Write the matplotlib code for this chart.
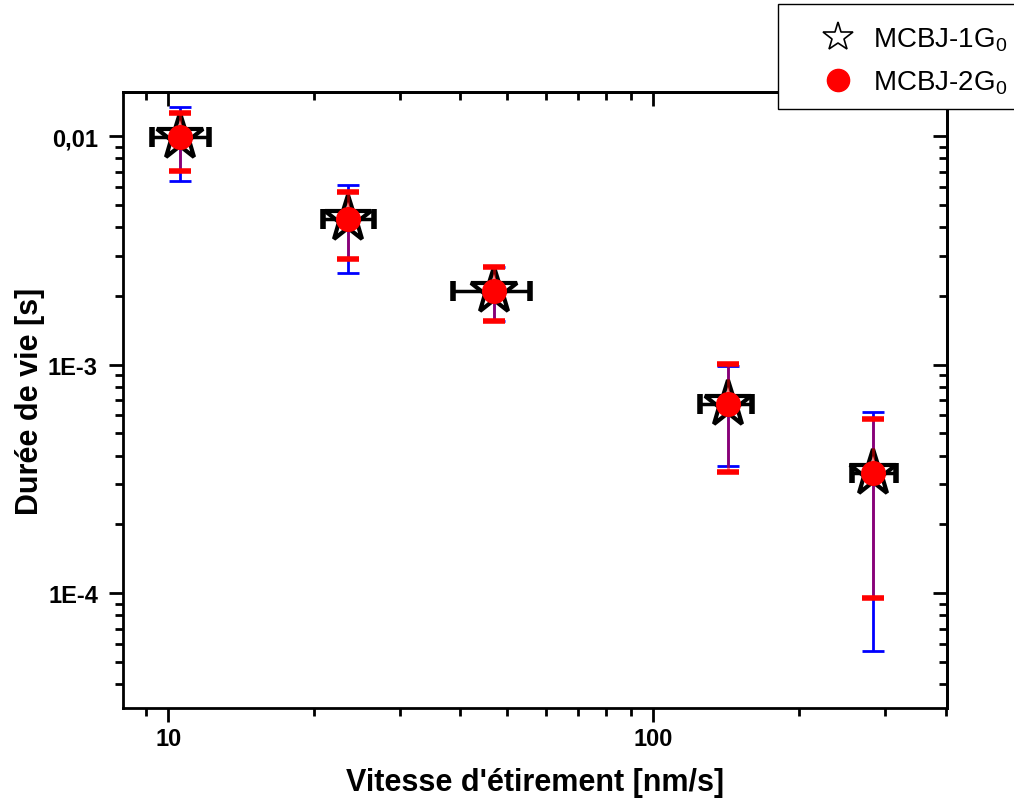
import numpy as np
import matplotlib
matplotlib.use("Agg")
import matplotlib.pyplot as plt
from matplotlib.lines import Line2D
from matplotlib.patches import Rectangle
from matplotlib.ticker import FixedLocator, FixedFormatter, LogLocator, NullFormatter

plt.rcParams['font.family'] = ['Liberation Sans', 'DejaVu Sans']
plt.rcParams['mathtext.default'] = 'regular'

# stretching speed [nm/s] and lifetime [s]
speed = [10.6, 23.5, 47.0, 142.8, 284.0]
speed_lo = [9.27, 20.8, 38.7, 125.0, 257.0]
speed_hi = [12.15, 26.5, 55.7, 160.0, 316.0]

life = [0.0099, 0.00433, 0.0021, 6.7e-4, 3.37e-4]
# MCBJ-1G0 (blue bars)
life1_lo = [0.00635, 0.00251, 0.00155, 3.61e-4, 5.57e-5]
life1_hi = [0.0134, 0.0061, 0.00267, 9.9e-4, 6.22e-4]
# MCBJ-2G0 (red bars)
life2_lo = [0.00703, 0.0029, 0.00155, 3.4e-4, 9.5e-5]
life2_hi = [0.0127, 0.00569, 0.00267, 1.01e-3, 5.81e-4]

yticks = [1e-4, 1e-3, 1e-2]
ytick_labels = ["1E-4", "1E-3", "0,01"]
xticks = [10, 100]
xtick_labels = ["10", "100"]

x = np.array(speed)
y = np.array(life)
xerr = [x - np.array(speed_lo), np.array(speed_hi) - x]
yerr1 = [y - np.array(life1_lo), np.array(life1_hi) - y]
yerr2 = [y - np.array(life2_lo), np.array(life2_hi) - y]

fig = plt.figure(figsize=(10.14, 8.03), dpi=100)
ax = fig.add_axes([0.1213, 0.117, 0.8127, 0.767])

# series 1: black x error, blue y error, open star
ax.errorbar(x, y, xerr=xerr, fmt='none', ecolor='black', elinewidth=2.5,
            capsize=7, capthick=4, zorder=2)
ax.errorbar(x, y, yerr=yerr1, fmt='none', ecolor='blue', elinewidth=2,
            capsize=8, capthick=2, zorder=2)
ax.plot(x, y, linestyle='none', marker='*', ms=35, mfc='white', mec='black',
        mew=3, zorder=3)
# series 2: red y error, red circle
eb = ax.errorbar(x, y, yerr=yerr2, fmt='none', ecolor='red', elinewidth=2,
                 capsize=8, capthick=4, zorder=4)
for c in eb[2]:
    c.set_alpha(0.55)
ax.plot(x, y, linestyle='none', marker='o', ms=17, mfc='red', mec='red',
        zorder=5)

ax.set_xscale('log')
ax.set_yscale('log')
ax.set_xlim(8.07, 403)
ax.set_ylim(3.14e-5, 0.0156)

ax.xaxis.set_major_locator(FixedLocator(xticks))
ax.xaxis.set_major_formatter(FixedFormatter(xtick_labels))
ax.xaxis.set_minor_locator(LogLocator(base=10, subs=np.arange(2, 10)))
ax.xaxis.set_minor_formatter(NullFormatter())
ax.yaxis.set_major_locator(FixedLocator(yticks))
ax.yaxis.set_major_formatter(FixedFormatter(ytick_labels))
ax.yaxis.set_minor_locator(LogLocator(base=10, subs=np.arange(2, 10)))
ax.yaxis.set_minor_formatter(NullFormatter())

for s in ax.spines.values():
    s.set_linewidth(2)
ax.tick_params(which='both', direction='out', width=2, top=False, right=False)
ax.tick_params(which='major', length=10, labelsize=17, pad=8)
ax.tick_params(which='minor', length=6)
ax.tick_params(axis='x', pad=4)
# mirrored inward ticks on top/right
ax2 = ax.secondary_xaxis('top')
ax2.xaxis.set_major_locator(FixedLocator(xticks))
ax2.xaxis.set_minor_locator(LogLocator(base=10, subs=np.arange(2, 10)))
ax2.tick_params(which='both', direction='in', width=2, labeltop=False)
ax2.tick_params(which='major', length=10)
ax2.tick_params(which='minor', length=6)
ax2.spines['top'].set_linewidth(2)
ay2 = ax.secondary_yaxis('right')
ay2.yaxis.set_major_locator(FixedLocator(yticks))
ay2.yaxis.set_minor_locator(LogLocator(base=10, subs=np.arange(2, 10)))
ay2.tick_params(which='both', direction='in', width=2, labelright=False)
ay2.tick_params(which='major', length=10)
ay2.tick_params(which='minor', length=6)
ay2.spines['right'].set_linewidth(2)

for lab in ax.get_xticklabels() + ax.get_yticklabels():
    lab.set_fontweight('bold')

ax.set_xlabel("Vitesse d'étirement [nm/s]", fontsize=22, fontweight='bold', labelpad=12)
ax.set_ylabel("Durée de vie [s]", fontsize=22, fontweight='bold', labelpad=2)

# legend box (runs off the right edge, as in the original)
fig.patches.append(Rectangle((0.767, 0.863), 0.3, 0.131, transform=fig.transFigure,
                             facecolor='white', edgecolor='black', lw=1, zorder=5))
handles = [
    Line2D([], [], linestyle='none', marker='*', ms=22, mfc='white', mec='black', mew=1.2),
    Line2D([], [], linestyle='none', marker='o', ms=16, mfc='red', mec='red'),
]
leg = fig.legend(handles, ["MCBJ-1G$_0$", "MCBJ-2G$_0$"], loc='center left',
                 bbox_to_anchor=(0.799, 0.923), fontsize=20, frameon=False,
                 handletextpad=0.25, borderpad=0, borderaxespad=0,
                 labelspacing=0.54, handlelength=2)
leg.set_zorder(6)

fig.savefig("out.png", dpi=100)
